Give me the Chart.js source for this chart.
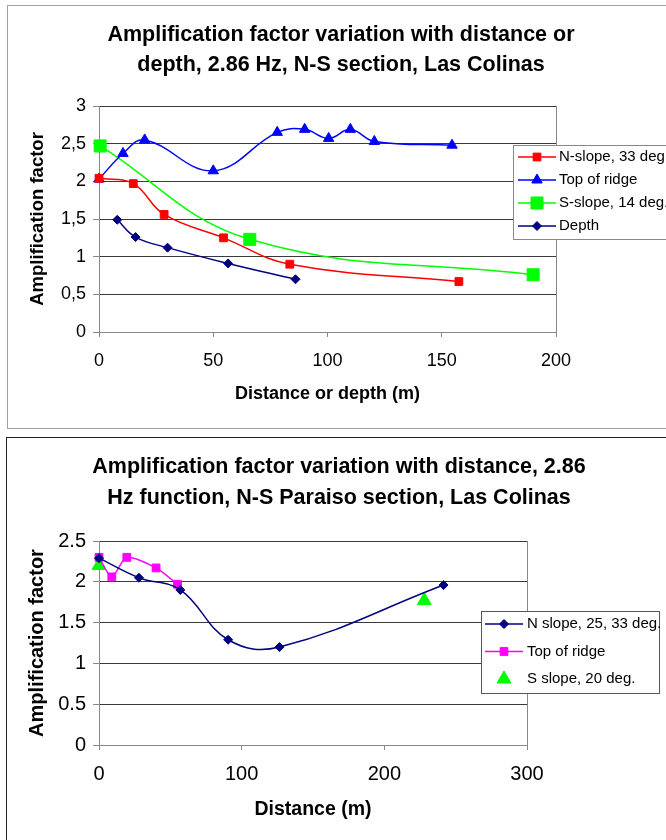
<!DOCTYPE html>
<html>

<head>
    <meta charset="utf-8">
    <script src="https://cdnjs.cloudflare.com/ajax/libs/Chart.js/4.4.1/chart.umd.min.js"></script>

    <style>
        body {
            margin: 0;
            background: #fff;
            overflow: hidden;
            width: 666px;
            height: 840px;
            position: relative;
        }

        .frame {
            position: absolute;
            box-sizing: border-box;
        }

        #frame1 {
            left: 7px;
            top: 5px;
            width: 720px;
            height: 424px;
            border: 1px solid #a0a0a0;
        }

        #frame2 {
            left: 6px;
            top: 437px;
            width: 720px;
            height: 500px;
            border: 1px solid #222;
        }

        canvas {
            position: absolute;
            left: 0;
        }

        #chart1 {
            top: 0;
        }

        #chart2 {
            top: 430px;
        }
    </style>
    <title>Amplification factor - Las Colinas</title>
</head>

<body>
    <div class="frame" id="frame1"></div>
    <div class="frame" id="frame2"></div>
    <canvas id="chart1" width="666" height="430"></canvas>
    <canvas id="chart2" width="666" height="410"></canvas>

    <script>
        // N-S section, 2.86 Hz: distance or depth (m) vs amplification factor
        var nSlopeX = [0, 15, 28.5, 54.5, 83.5, 157.5];
        var nSlopeY = [2.04, 1.97, 1.56, 1.25, 0.9, 0.67];
        var ridgeX = [0, 10.5, 20, 50, 78, 90, 100.5, 110, 120.5, 154.5];
        var ridgeY = [2.03, 2.37, 2.55, 2.14, 2.65, 2.69, 2.57, 2.69, 2.53, 2.48];
        var sSlopeX = [0.5, 66, 190];
        var sSlopeY = [2.47, 1.23, 0.76];
        var depthX = [8, 16, 30, 56.5, 86];
        var depthY = [1.49, 1.26, 1.12, 0.91, 0.7];

        // N-S Paraiso section
        var parNX = [0, 28, 57, 90.5, 126.5, 241.5];
        var parNY = [2.29, 2.05, 1.9, 1.29, 1.2, 1.96];
        var parRidgeX = [0, 9, 19.5, 40, 55];
        var parRidgeY = [2.3, 2.06, 2.3, 2.17, 1.97];
        var parSX = [0, 228];
        var parSY = [2.2, 1.77];

        // axis ranges: [min, max, step]
        var xAxis1 = [0, 200, 50];
        var yAxis1 = [0, 3, 0.5];
        var xAxis2 = [0, 300, 100];
        var yAxis2 = [0, 2.5, 0.5];

        var FONT = "'Liberation Sans', Arial, sans-serif";
        Chart.defaults.font.family = FONT;
        Chart.defaults.color = '#000';

        function series(label, xs, ys, color, style, radius, extra) {
            return Object.assign({
                label: label,
                data: xs.map(function (x, i) { return { x: x, y: ys[i] }; }),
                borderColor: color,
                backgroundColor: color,
                borderWidth: 1.5,
                pointStyle: style,
                pointRadius: radius,
                pointBorderWidth: 1,
                tension: 0.4,
                clip: false
            }, extra || {});
        }

        // Excel-style legend box laid over the right side of the plot
        var boxLegend = {
            id: 'boxLegend',
            afterDraw: function (chart, args, o) {
                var ctx = chart.ctx;
                ctx.save();
                ctx.fillStyle = '#fff';
                ctx.fillRect(o.x, o.y, o.w, o.h);
                ctx.strokeStyle = o.border;
                ctx.lineWidth = 1;
                ctx.strokeRect(o.x + 0.5, o.y + 0.5, o.w, o.h);
                ctx.font = o.font;
                ctx.textBaseline = 'middle';
                chart.data.datasets.forEach(function (ds, i) {
                    var cy = o.firstRow + i * o.rowGap;
                    ctx.strokeStyle = ds.borderColor;
                    if (ds.showLine !== false) {
                        ctx.lineWidth = ds.borderWidth;
                        ctx.beginPath();
                        ctx.moveTo(o.lineFrom, cy);
                        ctx.lineTo(o.lineTo, cy);
                        ctx.stroke();
                    }
                    ctx.lineWidth = 1;
                    ctx.fillStyle = ds.backgroundColor;
                    Chart.helpers.drawPoint(ctx, {
                        pointStyle: ds.pointStyle,
                        radius: ds.pointRadius,
                        borderWidth: 1,
                        rotation: 0
                    }, (o.lineFrom + o.lineTo) / 2, cy);
                    ctx.fillStyle = '#000';
                    ctx.fillText(ds.label, o.textX, cy);
                });
                ctx.restore();
            }
        };

        function scalesFor(xr, yr, o) {
            return {
                x: {
                    type: 'linear',
                    min: xr[0], max: xr[1],
                    ticks: { stepSize: xr[2], font: { size: o.tickSize }, padding: o.xTickPad, maxRotation: 0 },
                    grid: { drawOnChartArea: false, tickLength: 5, color: '#888' },
                    border: { color: '#888' },
                    title: { display: true, text: o.xTitle, font: { size: o.xTitleSize, weight: 'bold' }, padding: { top: 0, bottom: o.xTitlePad } },
                    afterFit: function (s) { s.height = o.xHeight; }
                },
                y: {
                    min: yr[0], max: yr[1],
                    ticks: { stepSize: yr[2], font: { size: o.tickSize }, padding: 7, callback: o.fmt },
                    grid: { color: '#3a3a3a', tickColor: '#888', tickLength: 6 },
                    border: { color: '#888' },
                    title: { display: true, text: 'Amplification factor', font: { size: o.yTitleSize, weight: 'bold' }, padding: { top: o.yTitlePad, bottom: 0 } },
                    afterFit: function (s) { s.width = o.yWidth; }
                },
                // empty right axis: reserves the legend side and draws the plot's right edge
                y2: {
                    position: 'right',
                    ticks: { display: false },
                    grid: { display: false },
                    border: { color: '#888' },
                    afterFit: function (s) { s.width = o.rightWidth; }
                }
            };
        }

        new Chart(document.getElementById('chart1'), {
            type: 'line',
            data: {
                datasets: [
                    series('N-slope, 33 deg.', nSlopeX, nSlopeY, '#ff0000', 'rect', 5.5),
                    series('Top of ridge', ridgeX, ridgeY, '#0000ff', 'triangle', 6),
                    series('S-slope, 14 deg.', sSlopeX, sSlopeY, '#00ff00', 'rect', 8.5),
                    series('Depth', depthX, depthY, '#000080', 'rectRot', 4.5)
                ]
            },
            options: {
                responsive: false,
                animation: false,
                layout: { padding: { left: 16, right: 0, top: 0, bottom: 8 } },
                plugins: {
                    legend: { display: false },
                    tooltip: { enabled: false },
                    title: {
                        display: true,
                        text: ['Amplification factor variation with distance or', 'depth, 2.86 Hz, N-S section, Las Colinas'],
                        font: { size: 21.5, weight: 'bold', lineHeight: '30px' },
                        padding: { top: 20.5, bottom: 25.5 }
                    },
                    boxLegend: {
                        x: 513, y: 145, w: 200, h: 94,
                        firstRow: 157, rowGap: 23,
                        lineFrom: 518, lineTo: 556, textX: 559,
                        border: '#888', font: '15px ' + FONT
                    }
                },
                scales: scalesFor(xAxis1, yAxis1, {
                    tickSize: 18, xTickPad: 13, xTitle: 'Distance or depth (m)', xTitleSize: 18, xTitlePad: 17,
                    xHeight: 90, yTitleSize: 18.5, yTitlePad: 11, yWidth: 83, rightWidth: 110,
                    fmt: function (v) { return String(v).replace('.', ','); }
                })
            },
            plugins: [boxLegend]
        });

        new Chart(document.getElementById('chart2'), {
            type: 'line',
            data: {
                datasets: [
                    series('N slope, 25, 33 deg.', parNX, parNY, '#000080', 'rectRot', 4.5),
                    series('Top of ridge', parRidgeX, parRidgeY, '#ff00ff', 'rect', 5.5, { tension: 0.25 }),
                    series('S slope, 20 deg.', parSX, parSY, '#00ff00', 'triangle', 8, { showLine: false })
                ]
            },
            options: {
                responsive: false,
                animation: false,
                layout: { padding: { left: 12, right: 0, top: 0, bottom: 8 } },
                plugins: {
                    legend: { display: false },
                    tooltip: { enabled: false },
                    title: {
                        display: true,
                        text: ['Amplification factor variation with distance, 2.86', 'Hz function, N-S Paraiso section, Las Colinas'],
                        font: { size: 21.5, weight: 'bold', lineHeight: '31px' },
                        padding: { top: 21.8, bottom: 27.2 }
                    },
                    boxLegend: {
                        x: 481, y: 181, w: 178, h: 82,
                        firstRow: 194, rowGap: 27.5,
                        lineFrom: 485, lineTo: 523, textX: 527,
                        border: '#555', font: '15px ' + FONT
                    }
                },
                scales: scalesFor(xAxis2, yAxis2, {
                    tickSize: 20, xTickPad: 12.5, xTitle: 'Distance (m)', xTitleSize: 19.5, xTitlePad: 10.3,
                    xHeight: 87, yTitleSize: 20, yTitlePad: 13.3, yWidth: 87, rightWidth: 139,
                    fmt: function (v) { return String(v); }
                })
            },
            plugins: [boxLegend]
        });
    </script>
</body>

</html>
